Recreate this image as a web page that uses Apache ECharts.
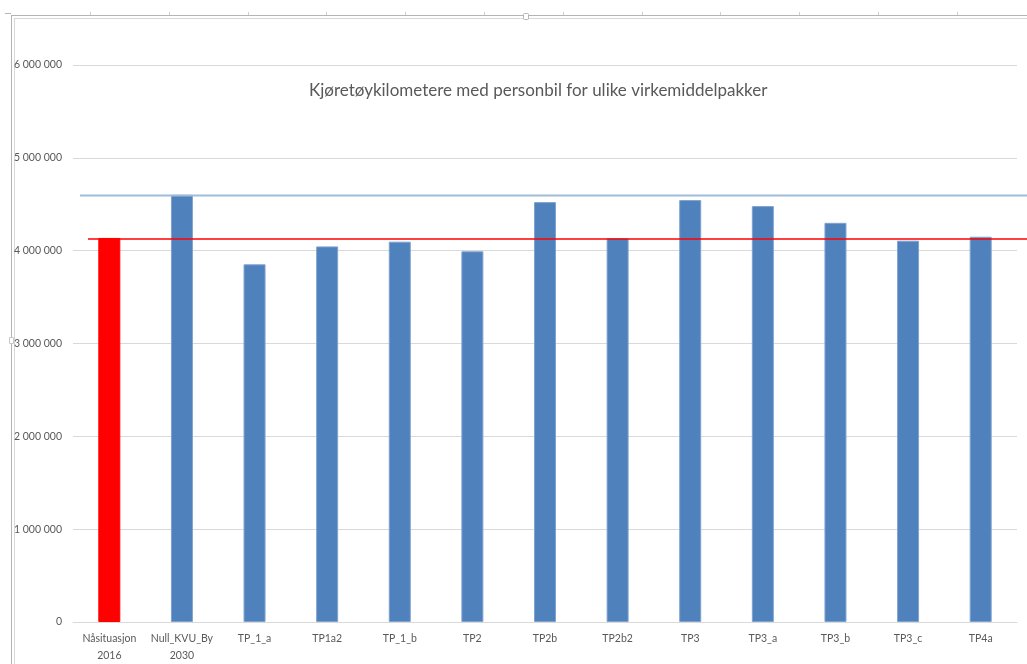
<!DOCTYPE html>
<html>
<head>
<meta charset="utf-8">
<script src="https://cdn.jsdelivr.net/npm/echarts@6/dist/echarts.min.js"></script>
<style>
html,body{margin:0;padding:0;background:#fff;overflow:hidden;}
#chart{width:1027px;height:664px;}
</style>
</head>
<body>
<div id="chart"></div>
<script>
const categories = ['Nåsituasjon\n2016','Null_KVU_By\n2030','TP_1_a','TP1a2','TP_1_b','TP2','TP2b','TP2b2','TP3','TP3_a','TP3_b','TP3_c','TP4a'];
const values = [4137000,4602000,3853000,4046000,4097000,3993000,4523000,4136000,4545000,4480000,4300000,4108000,4150000];
const barColors = ['#ff0000','#4f81bd','#4f81bd','#4f81bd','#4f81bd','#4f81bd','#4f81bd','#4f81bd','#4f81bd','#4f81bd','#4f81bd','#4f81bd','#4f81bd'];
const yTicks = [0,1000000,2000000,3000000,4000000,5000000,6000000];
const titleText = 'Kjøretøykilometere med personbil for ulike virkemiddelpakker';

const FONT = 'Lato, "Open Sans", sans-serif';
const fmt = v => String(v).replace(/\B(?=(\d{3})+(?!\d))/g, ' ');

const chart = echarts.init(document.getElementById('chart'), null, {renderer:'canvas', width:1027, height:664});

// decorative frame (selection outline / ruler ticks)
const deco = [];
deco.push({type:'line', shape:{x1:11,y1:15.5,x2:1027,y2:15.5}, style:{stroke:'#b4b4b4',lineWidth:1}, silent:true});
deco.push({type:'line', shape:{x1:14,y1:18.5,x2:1027,y2:18.5}, style:{stroke:'#d8d8d8',lineWidth:1}, silent:true});
deco.push({type:'line', shape:{x1:11.5,y1:15,x2:11.5,y2:664}, style:{stroke:'#b4b4b4',lineWidth:1}, silent:true});
deco.push({type:'line', shape:{x1:14.5,y1:18,x2:14.5,y2:664}, style:{stroke:'#d8d8d8',lineWidth:1}, silent:true});
deco.push({type:'line', shape:{x1:5,y1:13.5,x2:11,y2:13.5}, style:{stroke:'#b4b4b4',lineWidth:1}, silent:true});
for (let k=0;k<12;k++){
  const x = Math.round(90 + 78.8*k) + 0.5;
  deco.push({type:'line', shape:{x1:x,y1:12,x2:x,y2:15}, style:{stroke:'#d0d0d0',lineWidth:1}, silent:true});
}
deco.push({type:'rect', shape:{x:523.5,y:13.5,width:5,height:6,r:1}, style:{fill:'#fff',stroke:'#b4b4b4',lineWidth:1}, silent:true});
deco.push({type:'rect', shape:{x:9.5,y:337.5,width:4,height:6}, style:{fill:'#fff',stroke:'#c8c8c8',lineWidth:1}, silent:true});

const option = {
  backgroundColor:'#fff',
  animation:false,
  title:{
    text:titleText, left:304, top:77,
    textStyle:{fontFamily:FONT, fontSize:17, fontWeight:'normal', color:'#595959'}
  },
  grid:[
    {left:73, right:10, top:65, bottom:39, containLabel:false},
    {left:80, right:0, top:65, bottom:39, containLabel:false},
    {left:88, right:0, top:65, bottom:39, containLabel:false}
  ],
  xAxis:[
    {type:'category', gridIndex:0, data:categories,
     axisLine:{show:true, lineStyle:{color:'#d9d9d9', width:1}},
     axisTick:{show:false},
     axisLabel:{interval:0, margin:8, color:'#595959', fontFamily:FONT, fontSize:10.5, lineHeight:17}},
    {type:'value', gridIndex:1, min:0, max:1, show:false},
    {type:'value', gridIndex:2, min:0, max:1, show:false}
  ],
  yAxis:[
    {type:'value', gridIndex:0, min:yTicks[0], max:yTicks[yTicks.length-1], interval:yTicks[1]-yTicks[0],
     axisLine:{show:false}, axisTick:{show:false},
     splitLine:{lineStyle:{color:'#d9d9d9', width:1}},
     axisLabel:{margin:11, color:'#595959', fontFamily:FONT, fontSize:10.5, formatter:fmt}},
    {type:'value', gridIndex:1, min:yTicks[0], max:yTicks[yTicks.length-1], show:false},
    {type:'value', gridIndex:2, min:yTicks[0], max:yTicks[yTicks.length-1], show:false}
  ],
  series:[
    {type:'bar', xAxisIndex:0, yAxisIndex:0, barWidth:22,
     data: values.map((v,i)=>({value:v, itemStyle:{color:barColors[i], borderColor: i===0 ? '#ff0000' : '#7fa3cf', borderWidth:1}}))},
    {type:'line', xAxisIndex:1, yAxisIndex:1, symbol:'none', silent:true,
     data:[[0,values[1]],[1,values[1]]], lineStyle:{color:'#9fbcdb', width:2}},
    {type:'line', xAxisIndex:2, yAxisIndex:2, symbol:'none', silent:true,
     data:[[0,values[0]],[1,values[0]]], lineStyle:{color:'#ff0000', width:1.5}}
  ],
  graphic: deco
};
chart.setOption(option);
</script>
</body>
</html>
